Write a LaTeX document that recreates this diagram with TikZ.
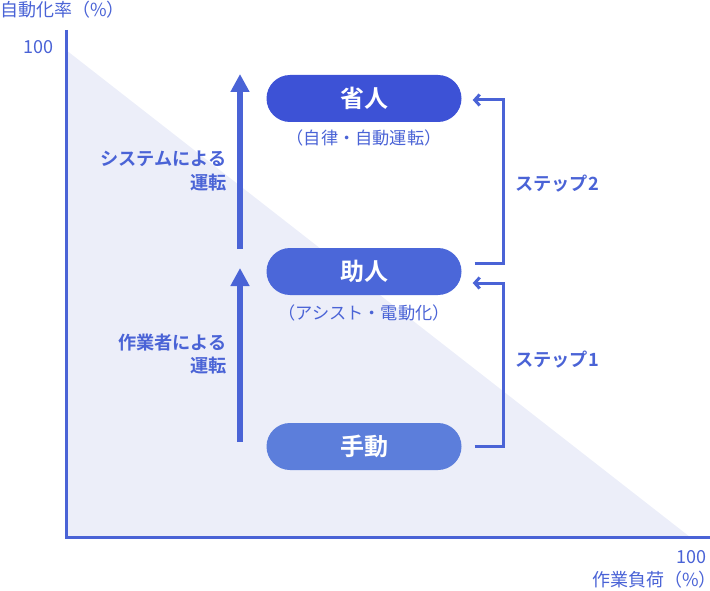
\documentclass[tikz,border=0pt]{standalone}
\usepackage{fontspec}
\setmainfont{Noto Sans CJK JP}[BoldFont={Noto Sans CJK JP Bold}]
\usetikzlibrary{arrows.meta,calc}
\definecolor{boxA}{HTML}{3D52D6}
\definecolor{boxB}{HTML}{4B67D9}
\definecolor{boxC}{HTML}{5C7EDB}
\definecolor{lineblue}{HTML}{4A63D6}
\definecolor{trifill}{HTML}{ECEEF9}
\tikzset{
  pill/.style={rounded corners=23.5pt, minimum width=195pt, minimum height=47pt, inner sep=0pt,
    text=white, font=\fontsize{24}{28}\selectfont\bfseries},
  subtitle/.style={text=lineblue, font=\fontsize{17.2}{20}\selectfont, inner sep=0pt},
  sidelabel/.style={text=lineblue, font=\fontsize{18.2}{23.5}\selectfont\bfseries, align=right, inner sep=0pt},
  axislabel/.style={text=lineblue, font=\fontsize{18}{21}\selectfont, inner sep=0pt},
  bigarrow/.style={lineblue, line width=6pt, -{Triangle[length=18pt,width=18pt]}},
  stepline/.style={lineblue, line width=3pt, -{Straight Barb[length=5pt,width=11pt]}},
}
\begin{document}
\begin{tikzpicture}[x=1pt,y=-1pt]
\useasboundingbox (0,0) rectangle (710,591);
% triangle
\fill[trifill] (66,50) -- (66,537) -- (690,537) -- cycle;
% axes
\coordinate (ytop) at (66,30);
\coordinate (origin) at (66,537);
\coordinate (xend) at (710,537);
\draw[lineblue, line width=3pt] (ytop) -- (origin) -- (xend);
% axis labels
\node[axislabel, anchor=west] (ylab) at (0,10) {自動化率（\%）};
\node[axislabel, anchor=east] (y100) at (54,47) {100};
\node[axislabel, anchor=east] (x100) at (707,557) {100};
\node[axislabel, anchor=east] (xlab) at (708,580) {作業負荷（\%\makebox[9pt][l]{）}};
% boxes
\node[pill, fill=boxA] (b1) at (364,98.5) {省人};
\node[pill, fill=boxB] (b2) at (364,271.5) {助人};
\node[pill, fill=boxC] (b3) at (364,446.5) {手動};
\node[subtitle] (s1) at (364,138) {（自律・自動運転）};
\node[subtitle] (s2) at (364,313) {（アシスト・電動化）};
% vertical arrows
\coordinate (a1s) at (240,442);
\coordinate (a1e) at (240,268);
\coordinate (a2s) at (240,249);
\coordinate (a2e) at (240,74);
\draw[bigarrow] (a1s) -- (a1e);
\draw[bigarrow] (a2s) -- (a2e);
\node[sidelabel, anchor=east] (l1) at (227,354) {作業者による\\運転};
\node[sidelabel, anchor=east] (l2) at (227,171) {システムによる\\運転};
% step connectors
\draw[stepline] ($(b3.east)+(13,0)$) -- ++(29,0) |- ($(b2.east)+(11,11.5)$);
\draw[stepline] ($(b2.east)+(13,-8.5)$) -- ++(29,0) |- ($(b1.east)+(11,1.5)$);
\node[sidelabel, anchor=west] (st1) at (515,360) {ステップ1};
\node[sidelabel, anchor=west] (st2) at (515,184) {ステップ2};
\end{tikzpicture}
\end{document}
